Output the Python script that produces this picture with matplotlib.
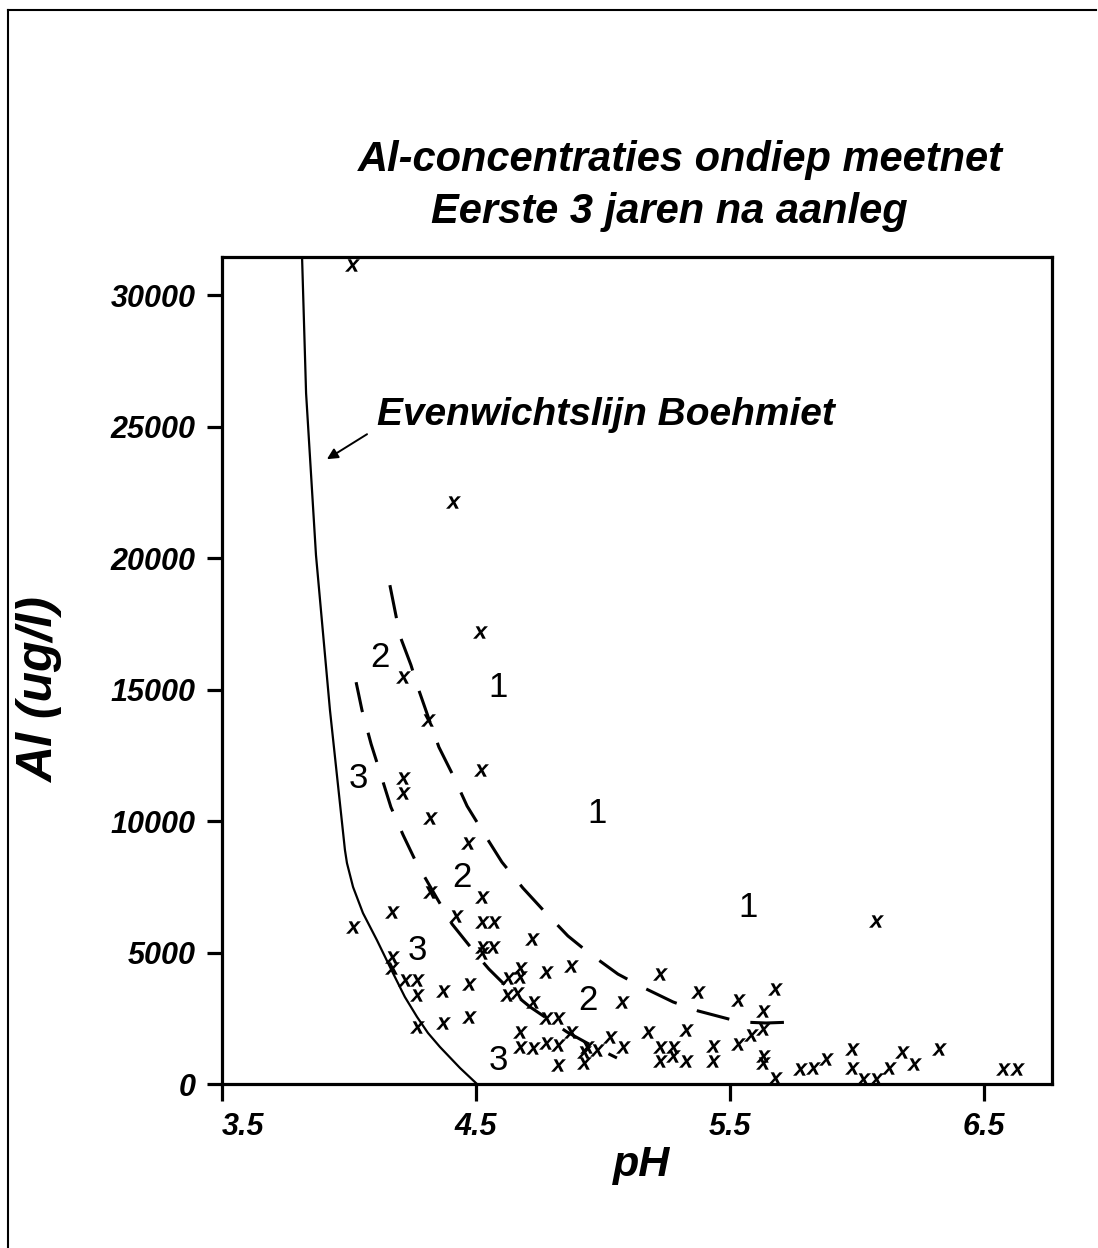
import matplotlib
matplotlib.use("Agg")
import matplotlib.pyplot as plt
from matplotlib.lines import Line2D

plt.rcParams["font.family"] = ["Liberation Sans", "DejaVu Sans"]
plt.rcParams["mathtext.fontset"] = "custom"
plt.rcParams["mathtext.it"] = "Liberation Sans:italic:bold"

# Evenwichtslijn Boehmiet (solid line)
boehm_ph = [3.815, 3.831, 3.870, 3.925, 3.984, 3.992, 4.016, 4.055, 4.110, 4.173,
            4.220, 4.268, 4.311, 4.358, 4.437, 4.504]
boehm_al = [31500, 26270, 20110, 14220, 8900, 8400, 7490, 6500, 5470, 4220,
            3310, 2550, 1940, 1410, 610, 0]

# grens 1 / 2 (outer dashed line)
grens12_ph = [4.161, 4.201, 4.244, 4.272, 4.319, 4.354, 4.413, 4.465, 4.535, 4.602, 4.685,
              4.764, 4.862, 4.945, 5.059, 5.154, 5.276, 5.374, 5.539, 5.642, 5.760]
grens12_al = [18970, 17030, 15930, 15060, 13760, 12810, 11670, 10570, 9470, 8440, 7450,
              6620, 5630, 4980, 4180, 3690, 3120, 2780, 2360, 2320, 2360]

# grens 2 / 3 (inner dashed line)
grens23_ph = [4.028, 4.051, 4.087, 4.122, 4.165, 4.213, 4.264, 4.350, 4.406, 4.504,
              4.551, 4.646, 4.713, 4.858, 4.937, 5.055]
grens23_al = [15280, 14220, 12930, 11860, 10530, 9470, 8440, 7000, 6080, 4900,
              4370, 3460, 2930, 1980, 1560, 990]

# metingen
meting_ph = [4.012, 4.409, 4.516, 4.213, 4.311, 4.520, 4.213, 4.213, 4.319, 4.469,
             4.319, 4.524, 4.169, 4.016, 4.421, 4.524, 4.571, 4.720, 4.524, 4.567,
             4.524, 4.169, 4.169, 4.220, 4.268, 4.268, 4.370, 4.472, 4.673, 4.673,
             4.626, 4.776, 4.874, 4.622, 4.661, 4.724, 5.075, 4.776, 4.823, 4.874,
             4.268, 4.370, 4.472, 4.673, 4.673, 4.724, 4.776, 4.823, 4.823, 4.925,
             4.925, 4.976, 4.937, 5.028, 5.079, 5.224, 5.374, 5.531, 5.677, 5.630,
             5.630, 5.583, 5.531, 5.177, 5.327, 5.224, 5.276, 5.224, 5.276, 5.327,
             5.433, 5.433, 5.630, 5.630, 5.677, 5.776, 5.827, 5.878, 5.980, 5.980,
             6.024, 6.075, 6.126, 6.177, 6.224, 6.323, 6.075, 6.575, 6.630]
meting_al = [31140, 22130, 17190, 15470, 13840, 11940, 11630, 11060, 10110, 9160,
             7300, 7110, 6540, 5970, 6390, 6160, 6160, 5510, 5210, 5210,
             4980, 4830, 4410, 3950, 3950, 3380, 3540, 3800, 4410, 4070,
             4030, 4260, 4490, 3380, 3460, 3120, 3120, 2510, 2510, 1980,
             2170, 2320, 2550, 1980, 1410, 1370, 1560, 1480, 720, 1220,
             800, 1290, 1410, 1790, 1410, 4180, 3500, 3190, 3610, 2780,
             2090, 1860, 1520, 1980, 2050, 1410, 1410, 870, 1060, 870,
             1440, 870, 1060, 800, 230, 570, 610, 950, 1330, 610,
             190, 190, 610, 1220, 760, 1330, 6200, 570, 570]

# zone labels
zone_txt = ["2", "1", "3", "1", "2", "1", "3", "2", "3"]
zone_ph = [4.122, 4.587, 4.035, 4.976, 4.445, 5.571, 4.268, 4.941, 4.587]
zone_al = [16230, 15060, 11630, 10300, 7870, 6730, 5090, 3190, 910]

# annotation: text position, arrow tail and head
label_pos = (4.110, 25440)
arrow_tail = (4.071, 24710)
arrow_head = (3.913, 23760)

x_ticks = [3.5, 4.5, 5.5, 6.5]
y_ticks = [0, 5000, 10000, 15000, 20000, 25000, 30000]

fig = plt.figure(figsize=(10.98, 12.48), dpi=100)
ax = fig.add_axes([0.2022, 0.1314, 0.7559, 0.6627])

ax.plot(boehm_ph, boehm_al, color="black", lw=1.6)
ax.plot(grens12_ph, grens12_al, color="black", lw=2.2, linestyle=(0, (11, 7)))
ax.plot(grens23_ph, grens23_al, color="black", lw=2.2, linestyle=(0, (10, 7)))
ax.scatter(meting_ph, meting_al, marker=r"$\mathit{x}$", s=115, color="black", lw=0)

for t, px, py in zip(zone_txt, zone_ph, zone_al):
    ax.text(px, py, t, fontsize=25, ha="center", va="center")

ax.text(label_pos[0], label_pos[1], "Evenwichtslijn Boehmiet", fontsize=28,
        fontweight="bold", fontstyle="italic", va="center", ha="left")
ax.annotate("", xy=arrow_head, xytext=arrow_tail,
            arrowprops=dict(arrowstyle="-|>", color="black", lw=1.4,
                            shrinkA=0, shrinkB=0, mutation_scale=16))

ax.set_xlim(3.5, 6.768)
ax.set_ylim(0, 31450)
ax.set_xticks(x_ticks)
ax.set_xticklabels([str(v) for v in x_ticks])
ax.set_yticks(y_ticks)
ax.set_yticklabels([str(v) for v in y_ticks])
ax.get_xticklabels()[0].set_ha("left")

for s in ax.spines.values():
    s.set_linewidth(2.3)
ax.tick_params(axis="x", direction="out", length=12, width=2.3, pad=8)
ax.tick_params(axis="y", direction="out", length=11, width=2.3, pad=8)
for lab in ax.get_xticklabels() + ax.get_yticklabels():
    lab.set_fontsize(22)
    lab.set_fontweight("bold")
    lab.set_fontstyle("italic")

ax.set_xlabel("pH", fontsize=31, fontweight="bold", fontstyle="italic", va="top")
ax.xaxis.set_label_coords(0.505, -0.074)
ax.set_ylabel("Al (ug/l)", fontsize=36, fontweight="bold", fontstyle="italic", va="center")
ax.yaxis.set_label_coords(-0.219, 0.476)

fig.text(0.62, 0.872, "Al-concentraties ondiep meetnet", fontsize=30,
         fontweight="bold", fontstyle="italic", ha="center", va="center")
fig.text(0.61, 0.830, "Eerste 3 jaren na aanleg", fontsize=30,
         fontweight="bold", fontstyle="italic", ha="center", va="center")

# outer frame of the scanned page
fig.add_artist(Line2D([0.007, 0.007], [0.0, 0.992], color="black", lw=1.5))
fig.add_artist(Line2D([0.007, 0.998], [0.992, 0.992], color="black", lw=1.5))

fig.savefig("out.png", dpi=100)
